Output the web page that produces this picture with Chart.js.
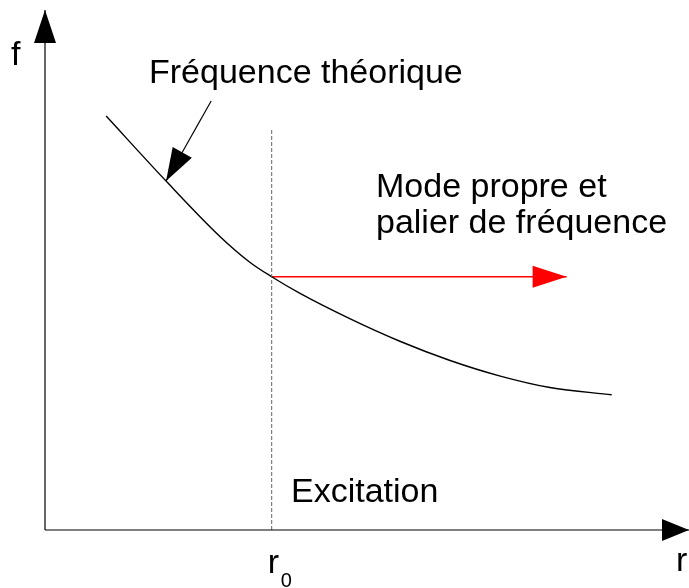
<!DOCTYPE html>
<html>
<head>
<meta charset="utf-8">
<script src="https://cdn.jsdelivr.net/npm/chart.js@4.4.1/dist/chart.umd.min.js"></script>
<style>
  html, body { margin: 0; padding: 0; background: #fff; }
  #wrap { position: relative; width: 689px; height: 588px; }
</style>
</head>
<body>
<div id="wrap"><canvas id="freqChart"></canvas></div>
<script>
/* f(r) : fréquence théorique, palier au rayon d'excitation r0 */
const rCurve = [0.95, 1.88, 2.72, 3.18, 3.52, 3.96, 4.74, 5.51, 6.29, 7.07, 7.84, 8.8];
const fCurve = [7.96, 6.71, 5.64, 5.15, 4.87, 4.55, 4.06, 3.63, 3.26, 2.96, 2.74, 2.6];
const R0 = 3.52;            // rayon d'excitation
const F0 = 4.87;            // fréquence du palier
const R_PALIER_END = 8.1;   // pointe de la flèche rouge
const R0_LINE_TOP = 7.73;
const AXIS_MAX = 10;
const POINTER_FROM = [2.58, 8.25];
const POINTER_TO = [1.88, 6.71];

const TXT_F = 'f';
const TXT_R = 'r';
const TXT_R0 = ['r', '0'];
const TXT_THEO = 'Fréquence théorique';
const TXT_MODE = ['Mode propre et', 'palier de fréquence'];
const TXT_EXC = 'Excitation';

const pts = (xs, ys) => xs.map((x, i) => ({ x, y: ys[i] }));
const FONT = '"Liberation Sans", Arial, sans-serif';

// pointe de flèche pleine au dernier point du segment
function head(ctx, x1, y1, x2, y2, len, half, color) {
  const a = Math.atan2(y2 - y1, x2 - x1);
  const bx = x2 - len * Math.cos(a), by = y2 - len * Math.sin(a);
  ctx.beginPath();
  ctx.moveTo(x2, y2);
  ctx.lineTo(bx + half * Math.sin(a), by - half * Math.cos(a));
  ctx.lineTo(bx - half * Math.sin(a), by + half * Math.cos(a));
  ctx.closePath();
  ctx.fillStyle = color; ctx.fill();
}

const arrows = {
  id: 'arrows',
  afterDatasetsDraw(c) {
    const { ctx } = c;
    ctx.save();
    c.data.datasets.forEach((ds, i) => {
      if (!ds.head) return;
      const d = c.getDatasetMeta(i).data;
      const p = d[d.length - 2], q = d[d.length - 1];
      head(ctx, p.x, p.y, q.x, q.y, ds.head.len, ds.head.half, ds.head.color);
    });
    ctx.restore();
  },
  afterDraw(c) {
    const { ctx } = c;
    const xs = c.scales.x;
    ctx.save();
    ctx.fillStyle = '#000';
    ctx.textBaseline = 'alphabetic';
    ctx.font = '34px ' + FONT;
    ctx.fillText(TXT_F, 11, 65);
    ctx.fillText(TXT_THEO, 149, 83);
    ctx.fillText(TXT_MODE[0], 376, 197);
    ctx.fillText(TXT_MODE[1], 376, 233);
    ctx.fillText(TXT_EXC, 291, 502);
    ctx.fillText(TXT_R, 676, 571);
    const r0x = xs.getPixelForValue(R0);
    ctx.fillText(TXT_R0[0], r0x - 4, 573);
    ctx.font = '20px ' + FONT;
    ctx.fillText(TXT_R0[1], r0x + 9, 587);
    ctx.restore();
  }
};

new Chart(document.getElementById('freqChart'), {
  type: 'scatter',
  data: {
    datasets: [
      { data: pts([0, AXIS_MAX], [0, 0]), borderColor: '#000', borderWidth: 1.2,
        head: { len: 27, half: 11, color: '#000' } },
      { data: pts([0, 0], [0, AXIS_MAX]), borderColor: '#000', borderWidth: 1.2,
        head: { len: 33, half: 11, color: '#000' } },
      { data: pts([R0, R0], [0, R0_LINE_TOP]), borderColor: '#666', borderWidth: 1, borderDash: [4, 2] },
      { data: pts(rCurve, fCurve), borderColor: '#000', borderWidth: 1.4, cubicInterpolationMode: 'monotone' },
      { data: pts([R0, R_PALIER_END], [F0, F0]), borderColor: '#ff0000', borderWidth: 1.3,
        head: { len: 34, half: 11, color: '#ff0000' } },
      { data: pts([POINTER_FROM[0], POINTER_TO[0]], [POINTER_FROM[1], POINTER_TO[1]]), borderColor: '#000', borderWidth: 1.2,
        head: { len: 33, half: 11, color: '#000' } },
    ].map(d => Object.assign({ showLine: true, pointRadius: 0, clip: false, fill: false }, d))
  },
  options: {
    responsive: true, maintainAspectRatio: false,
    animation: false,
    layout: { padding: { left: 45, right: 0, top: 10, bottom: 58 } },
    plugins: { legend: { display: false }, tooltip: { enabled: false } },
    events: [],
    scales: {
      x: { type: 'linear', min: 0, max: AXIS_MAX, display: false },
      y: { type: 'linear', min: 0, max: AXIS_MAX, display: false },
    },
  },
  plugins: [arrows],
});
</script>
</body>
</html>
